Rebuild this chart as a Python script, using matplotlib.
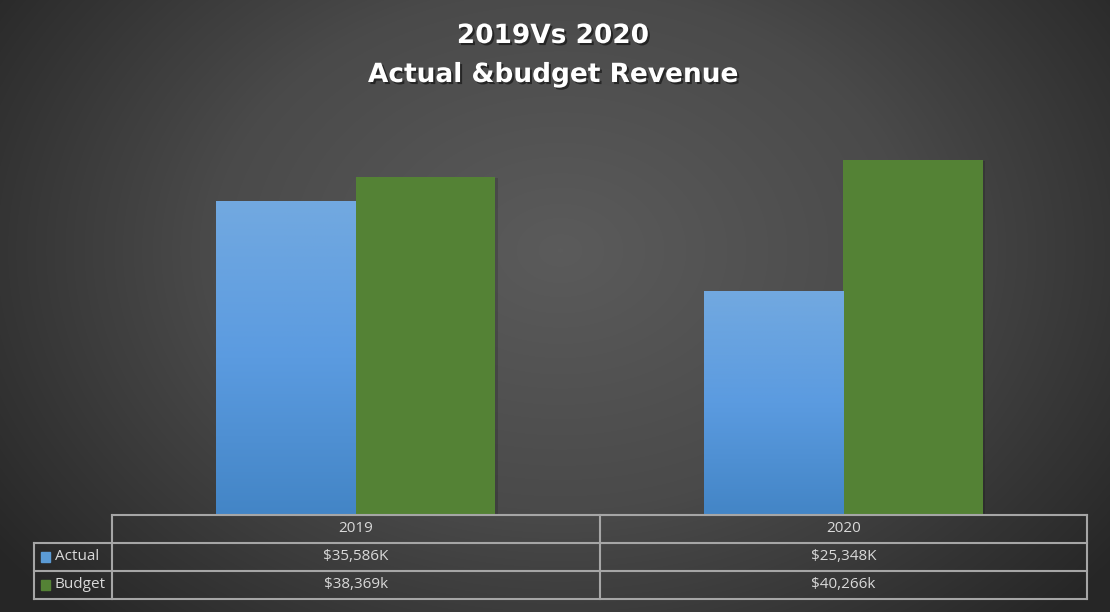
import matplotlib.pyplot as plt
import numpy as np
from matplotlib.colors import LinearSegmentedColormap
import matplotlib.patheffects as pe

# Data
years = ['2019', '2020']
actual = [35586, 25348]
budget = [38369, 40266]
actual_labels = ['$35,586K', '$25,348K']
budget_labels = ['$38,369k', '$40,266k']
series_names = ['Actual', 'Budget']

W, H = 1110, 612
fig = plt.figure(figsize=(W / 100, H / 100), dpi=100)

# Radial gradient background
bg = fig.add_axes([0, 0, 1, 1])
bg.axis('off')
yy, xx = np.mgrid[0:H, 0:W]
r = np.sqrt(((xx - 560) / 700.0) ** 2 + ((yy - 250) / 520.0) ** 2)
r = np.clip(r, 0, 1)
bg_cmap = LinearSegmentedColormap.from_list('bg', ['#5b5b5b', '#4a4a4a', '#262626'])
bg.imshow(r, cmap=bg_cmap, extent=[0, W, H, 0], aspect='auto', vmin=0, vmax=1)
bg.set_xlim(0, W)
bg.set_ylim(H, 0)

# Plot area
left, right, bottom, top = 112, 1087, 515, 118
ax = fig.add_axes([left / W, (H - bottom) / H, (right - left) / W, (bottom - top) / H])
ax.set_facecolor('none')
ax.set_xlim(-0.5, 1.5)
ax.set_ylim(0, 45000)
ax.axis('off')

x = np.arange(len(years))
bw = 0.286
blue_cmap = LinearSegmentedColormap.from_list('blue', ['#4385c6', '#5b9be0', '#72a9e0'])
shadow = [pe.SimplePatchShadow(offset=(2, -1), shadow_rgbFace='black', alpha=0.15), pe.Normal()]

bars_a = ax.bar(x - bw / 2, actual, bw, color='#5b9bd5', edgecolor='none', path_effects=shadow)
bars_b = ax.bar(x + bw / 2, budget, bw, color='#548235', edgecolor='none', path_effects=shadow)

# vertical gradient inside each Actual bar
grad = np.linspace(0, 1, 256).reshape(-1, 1)
for b in bars_a:
    x0, y0, w, h = b.get_x(), b.get_y(), b.get_width(), b.get_height()
    im = ax.imshow(grad, cmap=blue_cmap, extent=[x0, x0 + w, y0, y0 + h],
                   origin='lower', aspect='auto', zorder=b.get_zorder() + 0.1)
    im.set_clip_path(b)
ax.set_xlim(-0.5, 1.5)
ax.set_ylim(0, 45000)

# Title
title_fx = [pe.SimplePatchShadow(offset=(1.5, -1.5), shadow_rgbFace='black', alpha=0.5), pe.Normal()]
fig.text(553 / W, 1 - 36 / H, '2019Vs 2020', ha='center', va='center', color='white',
         fontsize=19, fontweight='bold', family='DejaVu Sans', path_effects=title_fx)
fig.text(553 / W, 1 - 75 / H, 'Actual &budget Revenue', ha='center', va='center', color='white',
         fontsize=19, fontweight='bold', family='DejaVu Sans', path_effects=title_fx)

# Data table under the axis
tr = ax.get_xaxis_transform()
rh = 28 / (bottom - top)
line_kw = dict(color='#a6a6a6', lw=1.5, transform=tr, clip_on=False)
x_leg = -0.5 + (34 - left) / 487.5
# horizontal lines
ax.plot([-0.5, 1.5], [0, 0], **line_kw)
for k in (1, 2, 3):
    ax.plot([x_leg, 1.5], [-k * rh, -k * rh], **line_kw)
# vertical lines
ax.plot([-0.5, -0.5], [0, -3 * rh], **line_kw)
ax.plot([0.5, 0.5], [0, -3 * rh], **line_kw)
ax.plot([1.5, 1.5], [0, -3 * rh], **line_kw)
ax.plot([x_leg, x_leg], [-rh, -3 * rh], **line_kw)

txt_kw = dict(transform=tr, ha='center', va='center', color='#d9d9d9', fontsize=11, family='Open Sans')
for i, yr in enumerate(years):
    ax.text(x[i], -0.5 * rh, yr, **txt_kw)
    ax.text(x[i], -1.5 * rh, actual_labels[i], **txt_kw)
    ax.text(x[i], -2.5 * rh, budget_labels[i], **txt_kw)

sq = 9 / 487.5
for k, (name, col) in enumerate(zip(series_names, ['#5b9bd5', '#548235'])):
    yc = -(k + 1.5) * rh
    ax.add_patch(plt.Rectangle((x_leg + 7 / 487.5, yc - 0.012), sq, 0.024, color=col,
                               transform=tr, clip_on=False))
    ax.text(x_leg + 21 / 487.5, yc, name, transform=tr, ha='left', va='center',
            color='#d9d9d9', fontsize=11, family='Open Sans')

fig.savefig('out.png', dpi=100)
